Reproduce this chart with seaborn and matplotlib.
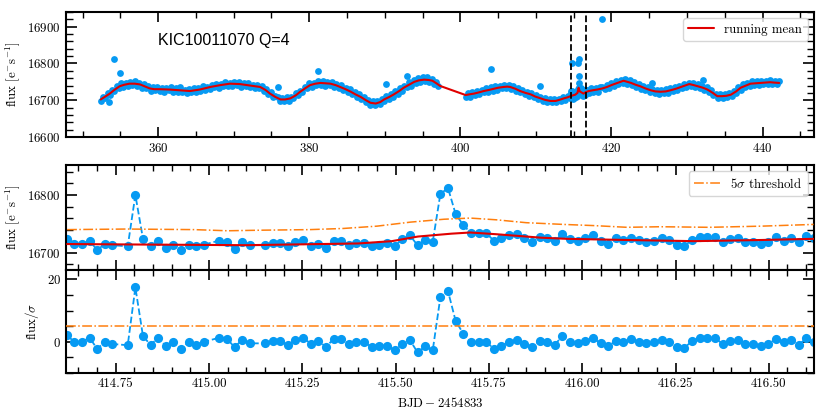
import matplotlib
matplotlib.use("Agg")
import matplotlib.pyplot as plt
from matplotlib.ticker import MultipleLocator, FormatStrFormatter
import seaborn as sns

# ---------------- data ----------------
# full quarter light curve (BJD - 2454833), thinned
top_time = [
    352.4, 352.7, 353.0, 353.3, 353.6, 353.9, 354.2, 354.5, 354.8, 355.1,
    355.4, 355.7, 356.0, 356.3, 356.6, 356.9, 357.2, 357.5, 357.8, 358.1,
    358.4, 358.7, 359.0, 359.3, 359.6, 359.9, 360.2, 360.5, 360.8, 361.1,
    361.4, 361.7, 362.0, 362.3, 362.6, 362.9, 363.2, 363.5, 363.8, 364.1,
    364.4, 364.7, 365.0, 365.3, 365.6, 365.9, 366.2, 366.5, 366.8, 367.1,
    367.4, 367.7, 368.0, 368.3, 368.6, 368.9, 369.2, 369.5, 369.8, 370.1,
    370.4, 370.7, 371.0, 371.3, 371.6, 371.9, 372.2, 372.5, 372.8, 373.1,
    373.4, 373.7, 374.0, 374.3, 374.6, 374.9, 375.2, 375.5, 375.8, 376.1,
    376.4, 376.7, 377.0, 377.3, 377.6, 377.9, 378.2, 378.5, 378.8, 379.1,
    379.4, 379.7, 380.0, 380.3, 380.6, 380.9, 381.2, 381.5, 381.8, 382.1,
    382.4, 382.7, 383.0, 383.3, 383.6, 383.9, 384.2, 384.5, 384.8, 385.1,
    385.4, 385.7, 386.0, 386.3, 386.6, 386.9, 387.2, 387.5, 387.8, 388.1,
    388.4, 388.7, 389.0, 389.3, 389.6, 389.9, 390.2, 390.5, 390.8, 391.1,
    391.4, 391.7, 392.0, 392.3, 392.6, 392.9, 393.2, 393.5, 393.8, 394.1,
    394.4, 394.7, 395.0, 395.3, 395.6, 395.9, 396.2, 396.5, 396.8, 397.1,
    # after the data gap
    400.7, 401.0, 401.3, 401.6, 401.9, 402.2, 402.5, 402.8, 403.1, 403.4,
    403.7, 404.0, 404.3, 404.6, 404.9, 405.2, 405.5, 405.8, 406.1, 406.4,
    406.7, 407.0, 407.3, 407.6, 407.9, 408.2, 408.5, 408.8, 409.1, 409.4,
    409.7, 410.0, 410.3, 410.6, 410.9, 411.2, 411.5, 411.8, 412.1, 412.4,
    412.7, 413.0, 413.3, 413.6, 413.9, 414.2, 414.5,
    416.7, 417.0, 417.3, 417.6, 417.9, 418.2, 418.5, 418.8, 419.1, 419.4,
    419.7, 420.0, 420.3, 420.6, 420.9, 421.2, 421.5, 421.8, 422.1, 422.4,
    422.7, 423.0, 423.3, 423.6, 423.9, 424.2, 424.5, 424.8, 425.1, 425.4,
    425.7, 426.0, 426.3, 426.6, 426.9, 427.2, 427.5, 427.8, 428.1, 428.4,
    428.7, 429.0, 429.3, 429.6, 429.9, 430.2, 430.5, 430.8, 431.1, 431.4,
    431.7, 432.0, 432.3, 432.6, 432.9, 433.2, 433.5, 433.8, 434.1, 434.4,
    434.7, 435.0, 435.3, 435.6, 435.9, 436.2, 436.5, 436.8, 437.1, 437.4,
    437.7, 438.0, 438.3, 438.6, 438.9, 439.2, 439.5, 439.8, 440.1, 440.4,
    440.7, 441.0, 441.3, 441.6, 441.9, 442.2,
]
top_flux = [
    16699, 16710, 16705, 16720, 16714, 16728, 16725, 16739, 16733, 16746,
    16736, 16747, 16738, 16750, 16742, 16752, 16739, 16746, 16734, 16744,
    16732, 16740, 16726, 16735, 16727, 16737, 16725, 16733, 16722, 16734,
    16727, 16735, 16722, 16732, 16723, 16735, 16722, 16729, 16720, 16730,
    16723, 16733, 16721, 16733, 16726, 16738, 16728, 16737, 16730, 16742,
    16735, 16745, 16734, 16745, 16738, 16750, 16739, 16748, 16738, 16750,
    16741, 16750, 16737, 16747, 16738, 16748, 16735, 16742, 16732, 16742,
    16733, 16740, 16724, 16730, 16717, 16723, 16708, 16712, 16710, 16697,
    16707, 16699, 16709, 16698, 16710, 16705, 16719, 16713, 16726, 16721,
    16736, 16733, 16746, 16736, 16748, 16741, 16751, 16742, 16753, 16740,
    16750, 16742, 16750, 16737, 16745, 16734, 16741, 16727, 16734, 16723,
    16730, 16716, 16721, 16708, 16716, 16704, 16710, 16695, 16700, 16687,
    16697, 16688, 16698, 16689, 16702, 16697, 16711, 16704, 16717, 16710,
    16724, 16718, 16733, 16726, 16740, 16735, 16749, 16740, 16755, 16747,
    16761, 16750, 16762, 16753, 16762, 16750, 16758, 16745, 16750, 16738,
    16709, 16720, 16710, 16721, 16715, 16726, 16717, 16728, 16721, 16732,
    16722, 16735, 16726, 16738, 16729, 16740, 16733, 16742, 16732, 16742,
    16731, 16739, 16725, 16732, 16721, 16729, 16716, 16723, 16711, 16720,
    16709, 16715, 16702, 16710, 16699, 16707, 16694, 16703, 16694, 16704,
    16694, 16704, 16698, 16710, 16701, 16711, 16706,
    16727, 16720, 16732, 16723, 16733, 16723, 16735, 16737, 16730, 16742,
    16734, 16746, 16739, 16752, 16743, 16756, 16748, 16757, 16745, 16754,
    16742, 16749, 16736, 16743, 16731, 16740, 16728, 16735, 16722, 16731,
    16720, 16729, 16717, 16727, 16719, 16730, 16720, 16732, 16725, 16736,
    16727, 16740, 16733, 16745, 16736, 16748, 16739, 16748, 16735, 16743,
    16732, 16739, 16727, 16735, 16723, 16728, 16713, 16718, 16706, 16716,
    16705, 16716, 16708, 16720, 16711, 16725, 16720, 16735, 16729, 16743,
    16735, 16747, 16739, 16751, 16742, 16751, 16742, 16753, 16744, 16753,
    16743, 16755, 16745, 16753, 16743, 16751,
]
# isolated points off the band
out_time = [353.5, 354.2, 354.9, 375.8, 381.1, 390.1, 393.0, 404.1, 410.5, 418.8, 425.4, 432.1]
out_flux = [16695, 16811, 16773, 16736, 16780, 16744, 16765, 16784, 16738, 16921, 16747, 16754]

# running mean, full quarter
mean_time = [
    352.4, 353.0, 353.6, 354.2, 354.9, 355.5, 356.2, 356.9, 357.6, 358.2,
    358.9, 359.5, 360.2, 361.5, 362.9, 364.2, 365.5, 366.9, 368.2, 369.5,
    370.8, 372.2, 373.5, 374.2, 374.8, 375.5, 376.2, 376.8, 377.5, 378.2,
    378.8, 379.5, 380.1, 380.8, 381.5, 382.2, 382.8, 383.5, 384.1, 384.8,
    385.5, 386.1, 386.8, 387.5, 388.1, 388.8, 389.4, 389.9, 390.6, 391.2,
    391.9, 392.5, 393.2, 393.9, 394.5, 395.2, 395.8, 396.3, 396.9, 397.3,
    400.7, 401.2, 401.8, 402.4, 403.1, 403.8, 404.4, 405.0, 405.7, 406.2,
    406.6, 407.3, 407.9, 408.6, 409.3, 409.9, 410.6, 411.2, 411.9, 412.6,
    413.1, 413.7, 414.2, 414.7, 415.2, 415.5, 415.65, 415.8, 416.3, 416.6,
    417.0, 417.5, 418.1, 418.8, 419.4, 420.1, 420.8, 421.6, 422.1, 422.6,
    423.2, 423.8, 424.5, 425.2, 425.8, 426.5, 427.2, 427.8, 428.5, 429.2,
    429.8, 430.3, 430.9, 431.4, 432.1, 432.7, 433.4, 434.0, 434.6, 435.2,
    435.8, 436.5, 437.1, 437.8, 438.4, 439.1, 439.7, 440.4, 441.0, 441.5,
    442.2,
]
mean_flux = [
    16702, 16710, 16718, 16728, 16738, 16742, 16745, 16745, 16743, 16738,
    16732, 16730, 16730, 16729, 16727, 16725, 16729, 16736, 16741, 16745,
    16744, 16740, 16736, 16728, 16718, 16709, 16702, 16702, 16705, 16713,
    16723, 16733, 16741, 16745, 16747, 16746, 16745, 16741, 16736, 16730,
    16723, 16716, 16709, 16700, 16693, 16691, 16695, 16702, 16709, 16716,
    16725, 16734, 16742, 16750, 16754, 16756, 16755, 16753, 16745, 16739,
    16714, 16716, 16718, 16721, 16725, 16728, 16731, 16734, 16736, 16737,
    16736, 16731, 16725, 16720, 16716, 16710, 16705, 16701, 16698, 16698,
    16701, 16705, 16708, 16712, 16715, 16720, 16734, 16724, 16718, 16722,
    16725, 16727, 16729, 16732, 16736, 16742, 16747, 16753, 16750, 16747,
    16742, 16738, 16732, 16727, 16724, 16723, 16724, 16727, 16731, 16736,
    16740, 16744, 16741, 16738, 16734, 16729, 16720, 16711, 16711, 16712,
    16715, 16724, 16734, 16740, 16745, 16746, 16747, 16748, 16749, 16748,
    16747,
]

# zoom window around the two flares (long cadence)
zoom_time = [
    414.6190, 414.6394, 414.6599, 414.6803, 414.7007, 414.7212, 414.7416, 414.7824,
    414.8029, 414.8233, 414.8437, 414.8642, 414.8846, 414.9050, 414.9255, 414.9459,
    414.9663, 414.9867, 415.0276, 415.0480, 415.0685, 415.0889, 415.1093, 415.1502,
    415.1706, 415.1910, 415.2115, 415.2319, 415.2523, 415.2728, 415.2932, 415.3136,
    415.3341, 415.3545, 415.3749, 415.3953, 415.4158, 415.4362, 415.4566, 415.4771,
    415.4975, 415.5179, 415.5384, 415.5588, 415.5792, 415.5996, 415.6201, 415.6405,
    415.6609, 415.6814, 415.7018, 415.7222, 415.7427, 415.7631, 415.7835, 415.8039,
    415.8244, 415.8448, 415.8652, 415.8857, 415.9061, 415.9265, 415.9470, 415.9674,
    415.9878, 416.0082, 416.0287, 416.0491, 416.0695, 416.0900, 416.1104, 416.1308,
    416.1513, 416.1717, 416.1921, 416.2125, 416.2330, 416.2534, 416.2738, 416.2943,
    416.3147, 416.3351, 416.3556, 416.3760, 416.3964, 416.4168, 416.4373, 416.4577,
    416.4781, 416.4986, 416.5190, 416.5394, 416.5599, 416.5803, 416.6007, 416.6211,
]
zoom_flux = [
    16724, 16715, 16715, 16720, 16705, 16715, 16713, 16711,
    16800, 16724, 16711, 16721, 16708, 16713, 16704, 16714,
    16711, 16714, 16721, 16719, 16706, 16719, 16713, 16713,
    16716, 16716, 16711, 16718, 16722, 16712, 16715, 16708,
    16720, 16720, 16713, 16717, 16717, 16712, 16714, 16716,
    16712, 16723, 16730, 16713, 16722, 16719, 16802, 16812,
    16767, 16748, 16734, 16734, 16734, 16721, 16726, 16730,
    16732, 16725, 16719, 16727, 16726, 16720, 16733, 16723,
    16720, 16725, 16730, 16720, 16715, 16725, 16722, 16726,
    16722, 16719, 16720, 16725, 16722, 16713, 16712, 16722,
    16728, 16728, 16728, 16718, 16723, 16726, 16719, 16719,
    16715, 16718, 16727, 16721, 16725, 16719, 16729, 16725,
]
zoom_snr = [
    2.1, 0.0, 0.0, 1.3, -2.3, 0.0, -0.7, -1.1,
    17.4, 1.8, -1.0, 1.3, -1.4, -0.2, -2.3, 0.0,
    -0.9, 0.0, 1.3, 1.0, -1.7, 0.6, -0.5, -0.5,
    0.2, 0.2, -1.0, 0.5, 1.3, -0.6, 0.2, -1.6,
    0.9, 0.9, -0.7, 0.0, -0.2, -1.6, -1.2, -1.2,
    -2.7, -0.6, 0.6, -3.4, -1.5, -2.7, 14.3, 16.2,
    6.7, 2.6, -0.2, 0.0, 0.0, -2.2, -1.2, -0.2,
    0.6, -0.6, -1.7, 0.2, 0.0, -0.9, 1.8, 0.0,
    -0.5, 0.2, 1.3, -0.5, -1.3, 0.2, 0.0, 0.9,
    0.0, -0.5, -0.2, 0.5, 0.0, -1.7, -1.9, 0.2,
    1.3, 1.3, 1.3, -0.7, 0.3, 0.5, -0.7, -0.7,
    -1.3, -0.7, 0.9, 0.0, 0.5, -0.9, 1.1, 0.0,
]

# running mean and 5 sigma threshold inside the zoom window
zmean_time = [414.62, 414.85, 415.10, 415.30, 415.40, 415.49, 415.56, 415.65, 415.70,
              415.77, 415.81, 415.89, 415.96, 416.12, 416.30, 416.48, 416.62]
zmean_flux = [16715, 16714, 16713, 16715, 16716, 16720, 16728, 16733, 16735,
              16732, 16730, 16726, 16724, 16722, 16720, 16722, 16724]
thr_time = [414.62, 414.78, 414.96, 415.05, 415.14, 415.27, 415.36, 415.45, 415.54, 415.63,
            415.70, 415.77, 415.85, 415.95, 416.03, 416.12, 416.21, 416.34, 416.48, 416.62]
thr_flux = [16740, 16741, 16740, 16738, 16739, 16740, 16742, 16746, 16753, 16758,
            16760, 16757, 16752, 16749, 16747, 16744, 16745, 16744, 16746, 16749]
snr_thr_time = [414.617, 416.621]
snr_thr = [5, 5]

window = (414.617, 416.621)

# ---------------- style ----------------
BLUE = "#069af3"
RED = "#e00000"
ORANGE = "#ff7f0e"

sns.set_style("ticks")
plt.rcParams.update({
    "font.family": "cmr10",
    "mathtext.fontset": "cm",
    "axes.formatter.use_mathtext": True,
    "font.size": 9.3,
    "axes.edgecolor": "k",
    "axes.labelcolor": "k",
    "text.color": "k",
    "xtick.color": "k",
    "ytick.color": "k",
    "axes.linewidth": 1.5,
    "xtick.direction": "in",
    "ytick.direction": "in",
    "xtick.top": True,
    "xtick.bottom": True,
    "ytick.left": True,
    "ytick.right": True,
    "xtick.minor.visible": True,
    "ytick.minor.visible": True,
    "xtick.major.size": 7,
    "ytick.major.size": 8,
    "xtick.minor.size": 4.5,
    "ytick.minor.size": 5,
    "xtick.major.width": 1.2,
    "ytick.major.width": 1.2,
    "xtick.minor.width": 1.0,
    "ytick.minor.width": 1.0,
    "xtick.labelsize": 9.3,
    "ytick.labelsize": 9.3,
})

fig = plt.figure(figsize=(8.3, 4.15), dpi=100)
ax0 = fig.add_axes([0.0795, 0.670, 0.9012, 0.301])
ax1 = fig.add_axes([0.0795, 0.3494, 0.9012, 0.253])
ax2 = fig.add_axes([0.0795, 0.1012, 0.9012, 0.2482], sharex=ax1)

# ---- top: whole quarter ----
pt = dict(color=BLUE, s=24, linewidth=0, zorder=2)
sns.scatterplot(x=top_time, y=top_flux, ax=ax0, **pt)
sns.scatterplot(x=out_time, y=out_flux, ax=ax0, **pt)
sns.scatterplot(x=zoom_time, y=zoom_flux, ax=ax0, **pt)
sns.lineplot(x=mean_time, y=mean_flux, ax=ax0, color=RED, lw=1.5, sort=False,
             estimator=None, label="running mean", zorder=3)
for xv in window:
    ax0.axvline(xv, color="k", ls="--", lw=1.3, zorder=4)
ax0.text(0.123, 0.77, "KIC10011070 Q=4", transform=ax0.transAxes,
         family="Liberation Sans", fontsize=11.5, va="center", ha="left")
ax0.set_xlim(347.8, 446.8)
ax0.set_ylim(16600, 16940)
ax0.xaxis.set_major_locator(MultipleLocator(20))
ax0.xaxis.set_minor_locator(MultipleLocator(5))
ax0.yaxis.set_major_locator(MultipleLocator(100))
ax0.yaxis.set_minor_locator(MultipleLocator(20))
ax0.set_ylabel(r"flux [$\mathrm{e^{-}s^{-1}}$]")
ax0.legend(loc="upper right", frameon=True, fancybox=True, framealpha=0.8,
           edgecolor="0.8", fontsize=9.3)

# ---- middle: zoom, flux ----
mk = dict(color=BLUE, ls="--", lw=1.3, marker="o", ms=6.6, mec=BLUE, mew=0,
          sort=False, estimator=None, zorder=2)
sns.lineplot(x=zoom_time, y=zoom_flux, ax=ax1, **mk)
sns.lineplot(x=zmean_time, y=zmean_flux, ax=ax1, color=RED, lw=1.5, sort=False,
             estimator=None, zorder=3)
sns.lineplot(x=thr_time, y=thr_flux, ax=ax1, color=ORANGE, ls="-.", lw=1.1, sort=False,
             estimator=None, label=r"$5\sigma$ threshold", zorder=3)
ax1.set_ylim(16670, 16852)
ax1.yaxis.set_major_locator(MultipleLocator(100))
ax1.yaxis.set_minor_locator(MultipleLocator(20))
ax1.set_ylabel(r"flux [$\mathrm{e^{-}s^{-1}}$]")
ax1.tick_params(axis="x", which="both", labelbottom=False)
ax1.legend(loc="upper right", frameon=True, fancybox=True, framealpha=0.8,
           edgecolor="0.8", fontsize=9.3)

# ---- bottom: zoom, significance ----
sns.lineplot(x=zoom_time, y=zoom_snr, ax=ax2, **mk)
sns.lineplot(x=snr_thr_time, y=snr_thr, ax=ax2, color=ORANGE, ls="-.", lw=1.1,
             sort=False, estimator=None, zorder=3)
ax2.set_xlim(*window)
ax2.set_ylim(-10, 23)
ax2.xaxis.set_major_locator(MultipleLocator(0.25))
ax2.xaxis.set_minor_locator(MultipleLocator(0.05))
ax2.xaxis.set_major_formatter(FormatStrFormatter("%.2f"))
ax2.yaxis.set_major_locator(MultipleLocator(20))
ax2.yaxis.set_minor_locator(MultipleLocator(5))
ax2.set_ylabel(r"flux/$\sigma$")
ax2.set_xlabel(r"$\mathrm{BJD} - 2454833$")
if ax2.get_legend() is not None:
    ax2.get_legend().remove()

fig.savefig("out.png", dpi=100)
